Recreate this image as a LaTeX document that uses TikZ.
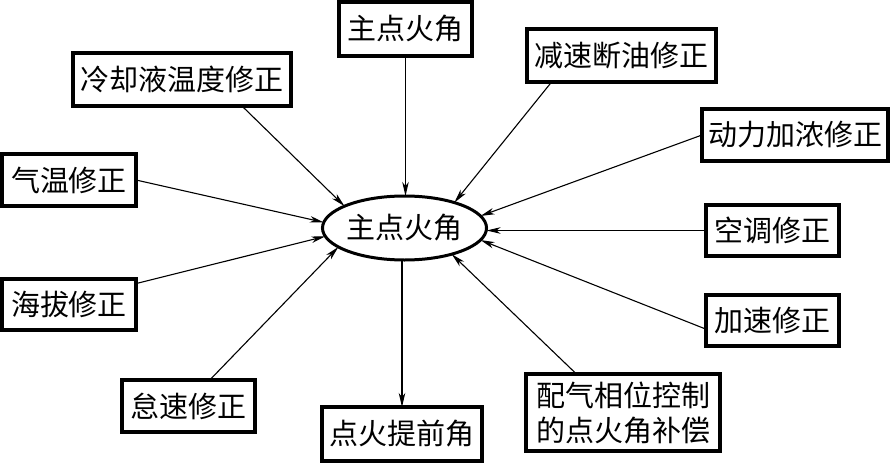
\documentclass[tikz,border=0pt]{standalone}
\usepackage{fontspec}
\newfontfamily\cjk{Noto Sans CJK SC}
\usetikzlibrary{shapes.geometric,arrows.meta,calc}
\begin{document}
\begin{tikzpicture}[x=1pt,y=-1pt,
  boxnode/.style={draw,line width=3.2pt,rectangle,inner sep=0pt,outer sep=0pt,
    minimum width=#1,font=\cjk\fontsize{29}{35}\selectfont,align=center},
  ellnode/.style={draw,line width=3pt,ellipse,inner sep=0pt,outer sep=0pt,
    minimum width=162,minimum height=64,font=\cjk\fontsize{29}{35}\selectfont},
  conn/.style={line width=1.1pt,-{Stealth[length=14pt,width=6.5pt,inset=4pt]}}]
\useasboundingbox (0,0) rectangle (892,463);
\node[ellnode] (ell) at (404.5,228) {主点火角};
\node[boxnode=133,minimum height=54] (top) at (405.5,29) {主点火角};
\node[boxnode=218,minimum height=53] (cool) at (182,79.5) {冷却液温度修正};
\node[boxnode=134,minimum height=52] (temp) at (69,180) {气温修正};
\node[boxnode=134,minimum height=51] (alt) at (69,304.5) {海拔修正};
\node[boxnode=133,minimum height=52] (idle) at (188.5,406) {怠速修正};
\node[boxnode=160,minimum height=54] (adv) at (402,434) {点火提前角};
\node[boxnode=194,minimum height=77] (cam) at (623,412.5) {配气相位控制\\的点火角补偿};
\node[boxnode=133,minimum height=51] (acc) at (772.5,320.5) {加速修正};
\node[boxnode=133,minimum height=51] (ac) at (772.5,230.5) {空调修正};
\node[boxnode=186,minimum height=52] (pow) at (795,135) {动力加浓修正};
\node[boxnode=189,minimum height=53] (dec) at (621.5,55.5) {减速断油修正};
\draw[conn] (top.south) -- (top.south |- ell.north);
\draw[conn] ($(cool.south west)!0.775!(cool.south east)$) -- (ell.160);
\draw[conn] (temp.east) -- (ell.176);
\draw[conn] ($(alt.north east)!0.09!(alt.south east)$) -- (ell.186);
\draw[conn] ($(idle.north west)!0.66!(idle.north east)$) -- (ell.196);
\draw[conn] (ell.south -| adv.north) -- (adv.north);
\draw[conn] ($(cam.north west)!0.26!(cam.north east)$) -- (ell.331);
\draw[conn] ($(acc.north west)!0.67!(acc.south west)$) -- (ell.351);
\draw[conn] (ac.west) -- (ac.west -| ell.east);
\draw[conn] (pow.west) -- (ell.9.5);
\draw[conn] ($(dec.south west)!0.13!(dec.south east)$) -- (ell.27);
\end{tikzpicture}
\end{document}
